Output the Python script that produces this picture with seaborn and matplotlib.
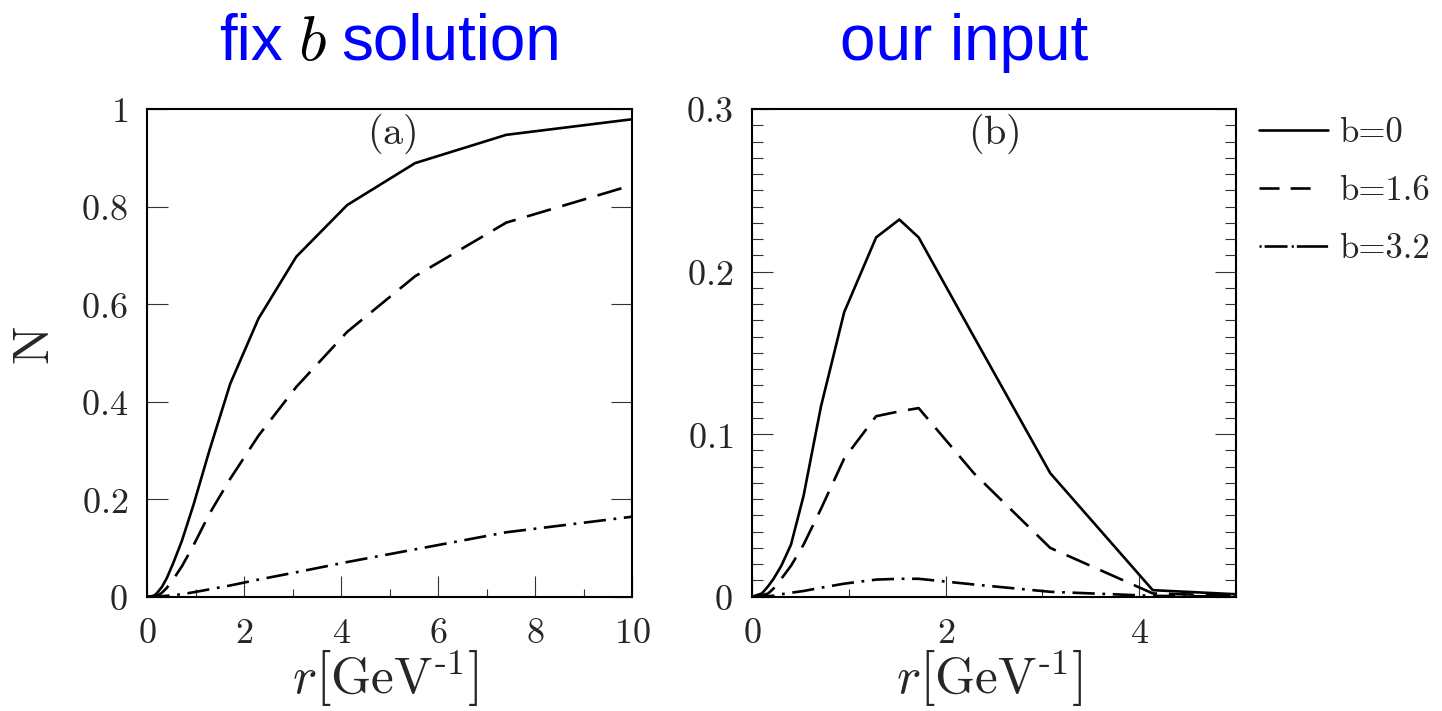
import matplotlib
matplotlib.use("Agg")
import matplotlib.pyplot as plt
from matplotlib.lines import Line2D
from matplotlib.ticker import MultipleLocator, FuncFormatter
import pandas as pd
import seaborn as sns

# Dipole amplitude N(r) from the fixed-b solution, for three impact parameters
r_fix = [0.0, 0.10, 0.165, 0.22, 0.30, 0.40, 0.53, 0.71, 0.95, 1.28, 1.71, 2.29,
         3.07, 4.12, 5.52, 7.40, 10.0]
N_fix_b0 = [0.0, 0.001, 0.004, 0.010, 0.020, 0.038, 0.068, 0.114, 0.188, 0.300,
            0.437, 0.570, 0.697, 0.803, 0.889, 0.947, 0.979]
N_fix_b16 = [0.0, 0.0, 0.001, 0.003, 0.008, 0.018, 0.035, 0.062, 0.105, 0.170,
             0.242, 0.330, 0.430, 0.543, 0.657, 0.767, 0.844]
N_fix_b32 = [0.0, 0.0, 0.0, 0.0005, 0.001, 0.0018, 0.003, 0.005, 0.009, 0.015,
             0.023, 0.035, 0.050, 0.071, 0.097, 0.132, 0.164]

# Input amplitude used as initial condition
r_in = [0.0, 0.10, 0.165, 0.22, 0.30, 0.40, 0.53, 0.71, 0.95, 1.28, 1.52, 1.72,
        2.29, 3.08, 4.14, 5.0]
N_in_b0 = [0.0, 0.002, 0.0065, 0.011, 0.019, 0.032, 0.062, 0.117, 0.175, 0.221,
           0.232, 0.221, 0.160, 0.076, 0.004, 0.0015]
N_in_b16 = [0.0, 0.0007, 0.002, 0.005, 0.011, 0.019, 0.032, 0.054, 0.085, 0.111,
            0.114, 0.116, 0.076, 0.030, 0.002, 0.0005]
N_in_b32 = [0.0, 0.0001, 0.0003, 0.0006, 0.0015, 0.0024, 0.0035, 0.0055, 0.008,
            0.0105, 0.011, 0.011, 0.0075, 0.003, 0.0005, 0.0]

b_labels = ["b=0", "b=1.6", "b=3.2"]
panel_titles = ["solution", "our input"]

sns.set_style("ticks")
plt.rcParams.update({
    "mathtext.fontset": "cm",
    "lines.scale_dashes": False,
    "axes.linewidth": 1.5,
    "axes.edgecolor": "black",
})

LW = 1.9
styles = [dict(linestyle="-"),
          dict(linestyle=(0, (18, 8.5))),
          dict(linestyle=(0, (16, 5.5, 2, 5.5)))]
# legend keys: two dashes, and dot-dash starting with a dot
legend_styles = ["-",
                 (0, (14.4, 8, 14.4, 14)),
                 (0, (1.5, 2.2, 16.5, 3, 1.5, 2.2, 22.5, 5))]

fig = plt.figure(figsize=(14.42, 7.11), dpi=100)
ax1 = fig.add_axes([0.1022, 0.1608, 0.3363, 0.6859])
ax2 = fig.add_axes([0.5217, 0.1608, 0.3354, 0.6859])


def draw_panel(ax, r, curves):
    for vals, st in zip(curves, styles):
        df = pd.DataFrame({"r": r, "N": vals})
        sns.lineplot(data=df, x="r", y="N", ax=ax, color="black", lw=LW,
                     estimator=None, **st)


draw_panel(ax1, r_fix, [N_fix_b0, N_fix_b16, N_fix_b32])
draw_panel(ax2, r_in, [N_in_b0, N_in_b16, N_in_b32])

fmt = FuncFormatter(lambda v, p: f"${v:g}$")
tick_fs = 26

for ax in (ax1, ax2):
    ax.tick_params(axis="both", which="both", direction="in", top=False,
                   right=True, width=0.8, color="#333333",
                   labelsize=tick_fs, pad=14)
    ax.tick_params(which="major", length=15)
    ax.tick_params(which="minor", length=6)
    ax.xaxis.set_major_formatter(fmt)
    ax.yaxis.set_major_formatter(fmt)
    ax.set_xlabel(r"$r\left[\mathrm{GeV}^{\text{-}1}_{\ }\right]$", fontsize=37)
    ax.xaxis.set_label_coords(0.49, -0.105)
    ax.set_ylabel("")

ax1.set_xlim(0, 10)
ax1.set_ylim(0, 1)
ax1.xaxis.set_major_locator(MultipleLocator(2))
ax1.xaxis.set_minor_locator(MultipleLocator(1))
ax1.yaxis.set_major_locator(MultipleLocator(0.2))
ax1.yaxis.set_minor_locator(plt.NullLocator())
ax1.set_ylabel(r"$\mathrm{N}$", fontsize=37)
ax1.yaxis.set_label_coords(-0.18, 0.515)

ax2.set_xlim(0, 5)
ax2.set_ylim(0, 0.3)
ax2.xaxis.set_major_locator(MultipleLocator(2))
ax2.xaxis.set_minor_locator(MultipleLocator(1))
ax2.yaxis.set_major_locator(MultipleLocator(0.1))
ax2.yaxis.set_minor_locator(MultipleLocator(0.01))
ax2.tick_params(axis="y", which="minor", length=8)

ax1.text(0.503, 0.95, r"$(\mathrm{a})$", transform=ax1.transAxes,
         ha="center", va="center", fontsize=29)
ax2.text(0.499, 0.95, r"$(\mathrm{b})$", transform=ax2.transAxes,
         ha="center", va="center", fontsize=29)

handles = [Line2D([], [], color="black", lw=LW, linestyle=ls)
           for ls in legend_styles]
fig.legend(handles, b_labels, loc="upper left",
           bbox_to_anchor=(0.873, 0.835), frameon=False,
           prop={"family": "cmr10", "size": 25},
           handlelength=2.0, handletextpad=0.3, labelspacing=0.76,
           borderpad=0, borderaxespad=0)

# Panel headings: blue text with a black italic b in the first one
title_fs = 46
title_font = ["Liberation Sans", "DejaVu Sans"]
base_y = 1 - 60 / 711
fig.canvas.draw()
rend = fig.canvas.get_renderer()
parts = [("fix", "blue"), (r"$b$", "black"), (panel_titles[0], "blue")]
texts = [fig.text(0, base_y, s, color=c, fontsize=title_fs, family=title_font,
                  va="baseline", ha="left")
         for s, c in parts]
widths = [t.get_window_extent(rend).width for t in texts]
gap = 15
total = sum(widths) + gap * (len(widths) - 1)
x = 390 - total / 2
for t, w in zip(texts, widths):
    t.set_x(x / 1442)
    x += w + gap
fig.text(964 / 1442, base_y, panel_titles[1], color="blue", fontsize=title_fs,
         family=title_font, va="baseline", ha="center")

fig.savefig("out.png", dpi=100)
